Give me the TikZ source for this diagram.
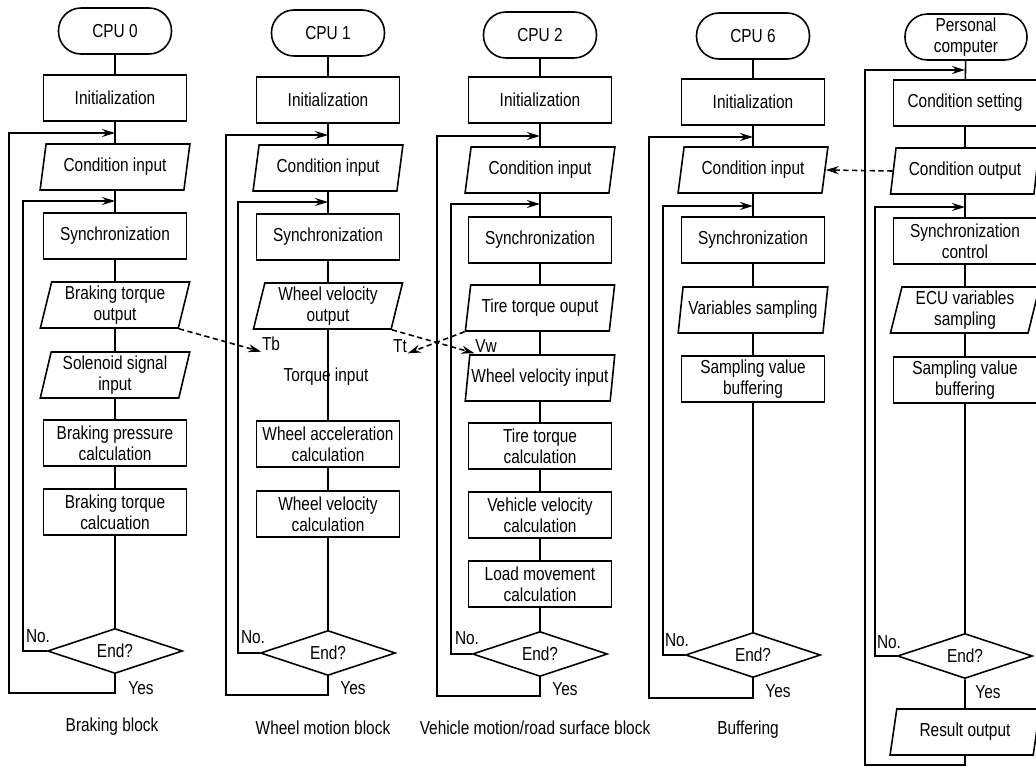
\documentclass[tikz,border=0pt]{standalone}
\usepackage{fontspec}
\setmainfont[FakeStretch=0.82]{Liberation Sans}
\usetikzlibrary{shapes.geometric,arrows.meta}

\begin{document}
\begin{tikzpicture}[x=0.02cm,y=-0.02cm,
  font=\fontsize{10.7}{12}\selectfont, line width=0.9pt,
  >={Stealth[length=2.6mm,width=1.6mm]},
  term/.style={draw, rounded corners=0.45cm, minimum width=2.26cm, minimum height=0.92cm, align=center, inner sep=1pt},
  proc/.style={draw, rectangle, minimum width=2.86cm, minimum height=0.92cm, align=center, inner sep=1pt},
  io/.style={draw, trapezium, trapezium left angle=78, trapezium right angle=102, trapezium stretches=true, minimum width=3cm, minimum height=0.92cm, align=center, inner xsep=0pt, inner ysep=1pt},
  decide/.style={draw, diamond, aspect=2.9, minimum width=2.7cm, minimum height=0.9cm, inner sep=0pt},
  link/.style={->, dash pattern=on 3pt off 2pt},
  lbl/.style={inner sep=0pt}]

\useasboundingbox (0,0) rectangle (1036,767);

%% CPU 0 : braking block
\node[term] (c0) at (115,31) {CPU 0};
\node[proc] (i0) at (115,98) {Initialization};
\node[io] (ci0) at (115,167) {Condition input};
\node[proc] (s0) at (115,236) {Synchronization};
\node[io] (bo0) at (115,305) {Braking torque\\output};
\node[io] (si0) at (115,375) {Solenoid signal\\input};
\node[proc] (bp0) at (115,443) {Braking pressure\\calculation};
\node[proc] (bt0) at (115,512) {Braking torque\\calcuation};
\node[decide] (e0) at (115,651) {End?};
\coordinate (j0a) at (115,133);
\coordinate (j0b) at (115,201);

\foreach \a/\b in {c0/i0,i0/ci0,ci0/s0,s0/bo0,bo0/si0,si0/bp0,bp0/bt0,bt0/e0}
  \draw (\a) -- (\b);
\draw[->] (e0.south) |- (9,693) |- (j0a);
\draw[->] (e0.west) -| (23,201) -- (j0b);
\node[lbl] (n0) at (38,636) {No.};
\node[lbl] (y0) at (141,688) {Yes};
\node (cap0) at (112,727) {Braking block};

%% CPU 1 : wheel motion block
\node[term] (c1) at (328,33) {CPU 1};
\node[proc] (i1) at (328,100) {Initialization};
\node[io] (ci1) at (328,168) {Condition input};
\node[proc] (s1) at (328,237) {Synchronization};
\node[io] (wo1) at (328,306) {Wheel velocity\\output};
\node (ti1) at (326,377) {Torque input};
\node[proc] (wa1) at (328,444) {Wheel acceleration\\calculation};
\node[proc] (wv1) at (328,514) {Wheel velocity\\calculation};
\node[decide] (e1) at (328,653) {End?};
\coordinate (j1a) at (328,135);
\coordinate (j1b) at (328,202);

\foreach \a/\b in {c1/i1,i1/ci1,ci1/s1,s1/wo1,wo1/wa1,wa1/wv1,wv1/e1}
  \draw (\a) -- (\b);
\draw[->] (e1.south) |- (226,695) |- (j1a);
\draw[->] (e1.west) -| (238,202) -- (j1b);
\node[lbl] (n1) at (253,637) {No.};
\node[lbl] (y1) at (353,688) {Yes};
\node (cap1) at (323,728) {Wheel motion block};

%% CPU 2 : vehicle motion/road surface block
\node[term] (c2) at (540,35) {CPU 2};
\node[proc] (i2) at (540,100) {Initialization};
\node[io] (ci2) at (540,170) {Condition input};
\node[proc] (s2) at (540,240) {Synchronization};
\node[io] (to2) at (540,308) {Tire torque ouput};
\node[io] (wi2) at (540,378) {Wheel velocity input};
\node[proc] (tt2) at (540,446) {Tire torque\\calculation};
\node[proc] (vv2) at (540,515) {Vehicle velocity\\calculation};
\node[proc] (lm2) at (540,584) {Load movement\\calculation};
\node[decide] (e2) at (540,654) {End?};
\coordinate (j2a) at (540,136);
\coordinate (j2b) at (540,204);

\foreach \a/\b in {c2/i2,i2/ci2,ci2/s2,s2/to2,to2/wi2,wi2/tt2,tt2/vv2,vv2/lm2,lm2/e2}
  \draw (\a) -- (\b);
\draw[->] (e2.south) |- (437,696) |- (j2a);
\draw[->] (e2.west) -| (451,204) -- (j2b);
\node[lbl] (n2) at (467,638) {No.};
\node[lbl] (y2) at (565,689) {Yes};
\node (cap2) at (535,728) {Vehicle motion/road surface block};

%% CPU 6 : buffering
\node[term] (c3) at (753,36) {CPU 6};
\node[proc] (i3) at (753,102) {Initialization};
\node[io] (ci3) at (753,170) {Condition input};
\node[proc] (s3) at (753,240) {Synchronization};
\node[io] (vs3) at (753,310) {Variables sampling};
\node[proc] (sb3) at (753,379) {Sampling value\\buffering};
\node[decide] (e3) at (753,655) {End?};
\coordinate (j3a) at (753,137);
\coordinate (j3b) at (753,206);

\foreach \a/\b in {c3/i3,i3/ci3,ci3/s3,s3/vs3,vs3/sb3,sb3/e3}
  \draw (\a) -- (\b);
\draw[->] (e3.south) |- (649,698) |- (j3a);
\draw[->] (e3.west) -| (663,206) -- (j3b);
\node[lbl] (n3) at (677,640) {No.};
\node[lbl] (y3) at (778,691) {Yes};
\node (cap3) at (748,730) {Buffering};

%% personal computer
\node[term, minimum width=2.44cm] (c4) at (966,37) {Personal\\computer};
\node[proc] (cs4) at (965,103) {Condition setting};
\node[io] (co4) at (965,171) {Condition output};
\node[proc] (sc4) at (965,241) {Synchronization\\control};
\node[io] (es4) at (965,310) {ECU variables\\sampling};
\node[proc] (sb4) at (965,380) {Sampling value\\buffering};
\node[decide] (e4) at (965,656) {End?};
\node[io] (ro4) at (965,732) {Result output};
\coordinate (j4a) at (965,70);
\coordinate (j4b) at (965,207);

\foreach \a/\b in {c4/cs4,cs4/co4,co4/sc4,sc4/es4,es4/sb4,sb4/e4,e4/ro4}
  \draw (\a) -- (\b);
\draw[->] (ro4.south) |- (865,765) |- (j4a);
\draw[->] (e4.west) -| (875,207) -- (j4b);
\node[lbl] (n4) at (889,642) {No.};
\node[lbl] (y4) at (988,692) {Yes};

%% data between the blocks
\node[lbl] (tb) at (271,344) {Tb};
\node[lbl] (tt) at (400,346) {Tt};
\node[lbl] (vw) at (486,346) {Vw};
\draw[link] (bo0.bottom right corner) -- (tb.south west);
\draw[link] (wo1.bottom right corner) -- (vw.south west);
\draw[link] (to2.bottom left corner) -- (tt.south east);
\draw[link] (co4.west) -- (ci3.east);

\end{tikzpicture}
\end{document}
